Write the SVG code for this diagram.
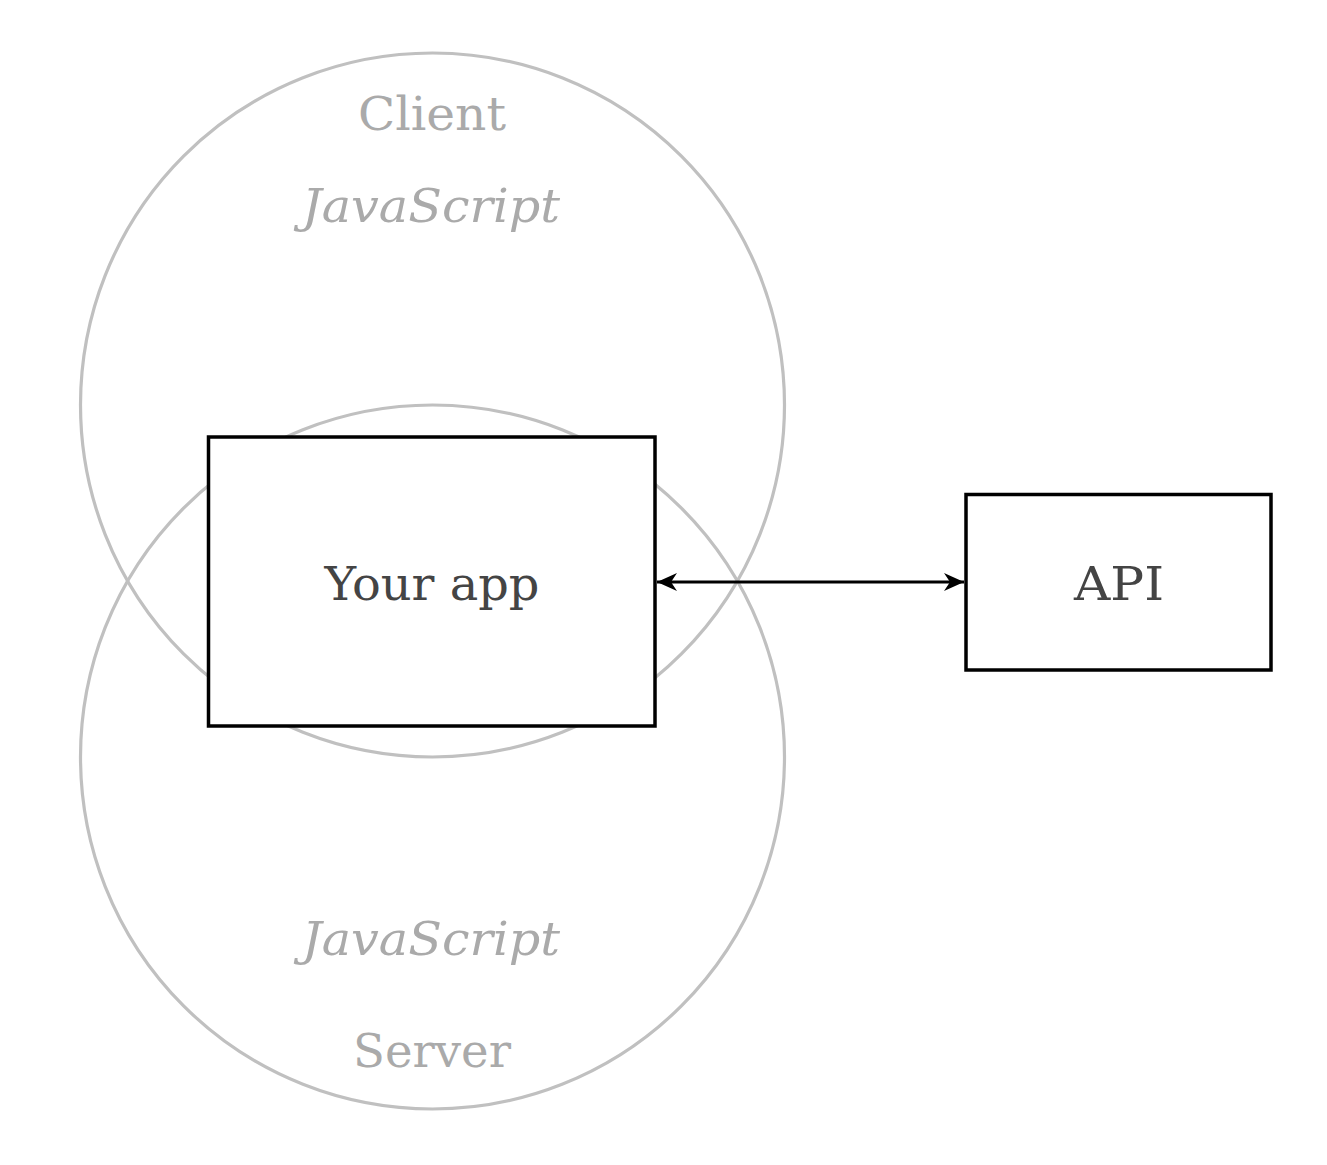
<svg xmlns="http://www.w3.org/2000/svg" width="1327" height="1165" viewBox="0 0 1327 1165">
<style>
.ring{fill:none;stroke:#c0c0c0;stroke-width:3.2}
.box{fill:#fff;stroke:#000;stroke-width:3.5}
.lbl{font-family:"DejaVu Serif","Liberation Serif",serif;font-size:47px;text-anchor:middle}
.light{fill:#aaaaaa}
.dark{fill:#444}
.it{font-style:italic}
.conn{stroke:#000;stroke-width:3.2;fill:none}
</style>
<defs>
<marker id="ah" viewBox="0 0 22 22" refX="20" refY="11" markerWidth="22" markerHeight="22" markerUnits="userSpaceOnUse" orient="auto-start-reverse">
<path d="M0,2 L20,11 L0,20 L6,11 Z" fill="#000"/>
</marker>
</defs>
<rect width="1327" height="1165" fill="#fff"/>
<g id="client">
<circle class="ring" cx="432.5" cy="405" r="352"/>
<text class="lbl light" x="432" y="130" textLength="148" lengthAdjust="spacingAndGlyphs">Client</text>
<text class="lbl light it" x="431" y="222" textLength="258" lengthAdjust="spacingAndGlyphs">JavaScript</text>
</g>
<g id="server">
<circle class="ring" cx="432.5" cy="757" r="352"/>
<text class="lbl light it" x="431" y="955" textLength="258" lengthAdjust="spacingAndGlyphs">JavaScript</text>
<text class="lbl light" x="432" y="1067" textLength="158" lengthAdjust="spacingAndGlyphs">Server</text>
</g>
<g id="app">
<rect class="box" x="208.5" y="437" width="446.5" height="289"/>
<text class="lbl dark" x="432" y="600" textLength="215" lengthAdjust="spacingAndGlyphs">Your app</text>
</g>
<g id="api">
<rect class="box" x="966" y="494.5" width="305" height="175.5"/>
<text class="lbl dark" x="1119" y="600" textLength="90" lengthAdjust="spacingAndGlyphs">API</text>
</g>
<g id="connectors">
<line class="conn" x1="657" y1="582" x2="964" y2="582" marker-start="url(#ah)" marker-end="url(#ah)"/>
</g>
</svg>
